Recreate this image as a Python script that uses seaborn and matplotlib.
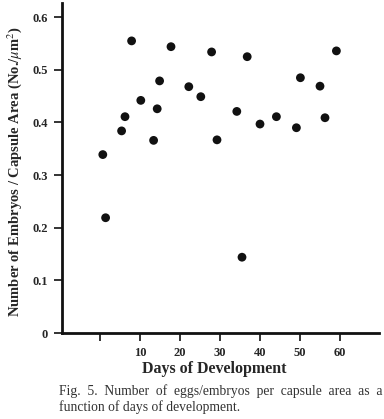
import numpy as np
import pandas as pd
import matplotlib
matplotlib.use('Agg')
import matplotlib.pyplot as plt
import seaborn as sns

# 数据
days = [0.7, 1.4, 5.4, 6.25, 7.9, 10.2, 13.4, 14.3, 14.9, 17.75, 22.2, 25.2,
        27.9, 29.25, 34.2, 35.5, 36.8, 40.0, 44.1, 49.1, 50.1, 55.0, 56.25, 59.1]
density = [0.339, 0.219, 0.384, 0.411, 0.555, 0.442, 0.366, 0.426, 0.479, 0.544, 0.468, 0.449,
           0.534, 0.367, 0.421, 0.144, 0.525, 0.397, 0.411, 0.390, 0.485, 0.469, 0.409, 0.536]
x_ticks = [0, 10, 20, 30, 40, 50, 60]
x_tick_labels = ['', '10', '20', '30', '40', '50', '60']
y_ticks = [0, 0.1, 0.2, 0.3, 0.4, 0.5, 0.6]
y_tick_labels = ['0', '0.1', '0.2', '0.3', '0.4', '0.5', '0.6']

df = pd.DataFrame({'days': days, 'density': density})

sns.set_style('ticks')
plt.rcParams['font.family'] = ['Liberation Serif', 'DejaVu Serif']
plt.rcParams['mathtext.fontset'] = 'stix'

fig = plt.figure(figsize=(3.84, 4.19), dpi=100)
ax = fig.add_axes([62 / 384, 1 - 333 / 419, (379 - 62) / 384, (333 - 3) / 419])

sns.scatterplot(data=df, x='days', y='density', ax=ax, color='#111111',
                s=40, edgecolor='none', legend=False)

ax.set_xlim(-9.5, 69.75)
ax.set_ylim(0, 0.627)
ax.set_xticks(x_ticks)
ax.set_xticklabels(x_tick_labels, fontweight='bold', fontsize=9)
ax.set_yticks(y_ticks)
ax.set_yticklabels(y_tick_labels, fontweight='bold', fontsize=9)
ax.tick_params(axis='both', length=6, width=1.2, color='#111111', pad=4)

for side in ['left', 'bottom']:
    ax.spines[side].set_linewidth(2)
    ax.spines[side].set_color('#111111')
sns.despine(ax=ax)

ax.set_xlabel('Days of Development', fontsize=11.5, fontweight='bold')
ax.xaxis.set_label_coords(0.48, -0.085)
ax.set_ylabel('Number of Embryos / Capsule Area (No./$\\mu$m$^2$)',
              fontsize=10.5, fontweight='bold')
ax.yaxis.set_label_coords(-0.12, 0.49)

fig.text(59 / 384, 1 - 391 / 419,
         'Fig.  5.  Number  of  eggs/embryos  per  capsule  area  as  a',
         fontsize=9.8, color='#333333', va='center', ha='left')
fig.text(59 / 384, 1 - 407 / 419, 'function of days of development.',
         fontsize=9.8, color='#333333', va='center', ha='left')

fig.savefig('out.png', dpi=100)
